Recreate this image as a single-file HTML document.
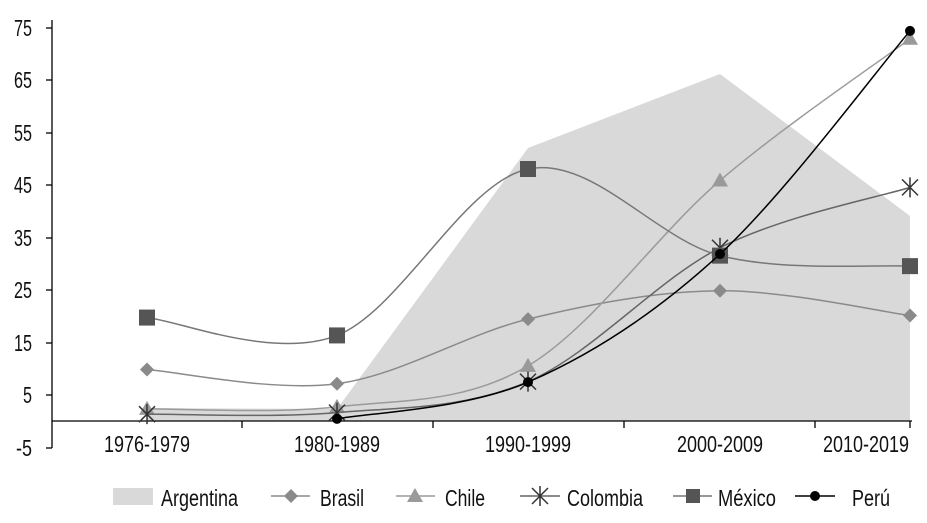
<!DOCTYPE html>
<html><head><meta charset="utf-8"><style>
html,body{margin:0;padding:0;background:#fff}
svg text{font-family:"Liberation Sans Narrow","Liberation Sans",sans-serif;font-size:23px;fill:#111}
</style></head><body>
<svg id="s" width="927" height="518" xmlns="http://www.w3.org/2000/svg">
<polygon points="147,408 337,409 528,148 720,74 910,216 910,421 147,421" fill="#d9d9d9"/>
<g stroke="#000" stroke-width="1.3">
<line x1="52" y1="20" x2="52" y2="448"/>
<line x1="52" y1="421" x2="912" y2="421"/>
<line x1="46" y1="28" x2="52" y2="28"/><line x1="46" y1="80" x2="52" y2="80"/><line x1="46" y1="133" x2="52" y2="133"/><line x1="46" y1="185" x2="52" y2="185"/><line x1="46" y1="238" x2="52" y2="238"/><line x1="46" y1="290" x2="52" y2="290"/><line x1="46" y1="343" x2="52" y2="343"/><line x1="46" y1="395" x2="52" y2="395"/><line x1="46" y1="448" x2="52" y2="448"/>
<line x1="242" y1="421" x2="242" y2="428"/><line x1="433" y1="421" x2="433" y2="428"/><line x1="624" y1="421" x2="624" y2="428"/><line x1="815" y1="421" x2="815" y2="428"/><line x1="910" y1="421" x2="910" y2="428"/>
</g>
<g text-anchor="end">
<text x="32" y="36" textLength="18" lengthAdjust="spacingAndGlyphs">75</text><text x="32" y="88" textLength="18" lengthAdjust="spacingAndGlyphs">65</text><text x="32" y="141" textLength="18" lengthAdjust="spacingAndGlyphs">55</text><text x="32" y="193" textLength="18" lengthAdjust="spacingAndGlyphs">45</text><text x="32" y="246" textLength="18" lengthAdjust="spacingAndGlyphs">35</text><text x="32" y="298" textLength="18" lengthAdjust="spacingAndGlyphs">25</text><text x="32" y="351" textLength="18" lengthAdjust="spacingAndGlyphs">15</text><text x="32" y="403" textLength="9" lengthAdjust="spacingAndGlyphs">5</text><text x="32" y="456" textLength="16" lengthAdjust="spacingAndGlyphs">-5</text>
</g>
<g text-anchor="middle">
<text x="147" y="452" textLength="86" lengthAdjust="spacingAndGlyphs">1976-1979</text>
<text x="337" y="452" textLength="86" lengthAdjust="spacingAndGlyphs">1980-1989</text>
<text x="528" y="452" textLength="86" lengthAdjust="spacingAndGlyphs">1990-1999</text>
<text x="720" y="452" textLength="86" lengthAdjust="spacingAndGlyphs">2000-2009</text>
<text x="866" y="452" textLength="86" lengthAdjust="spacingAndGlyphs">2010-2019</text>
</g>
<g id="series"></g>
<rect x="113" y="488" width="40" height="17" fill="#d9d9d9"/>
<text x="161" y="506" textLength="77" lengthAdjust="spacingAndGlyphs">Argentina</text>
<line x1="271" y1="496" x2="310" y2="496" stroke="#8a8a8a" stroke-width="1.5"/><polygon points="291,489 298,496 291,503 284,496" fill="#8a8a8a"/>
<text x="320" y="506" textLength="44" lengthAdjust="spacingAndGlyphs">Brasil</text>
<line x1="396" y1="496" x2="435" y2="496" stroke="#9a9a9a" stroke-width="1.5"/><polygon points="415,488 423,502 407,502" fill="#9a9a9a"/>
<text x="445" y="506" textLength="40" lengthAdjust="spacingAndGlyphs">Chile</text>
<line x1="520" y1="496" x2="560" y2="496" stroke="#666" stroke-width="1.5"/><path d="M532,488L548,504M548,488L532,504M540,486V506" stroke="#333" stroke-width="1.5"/>
<text x="567" y="506" textLength="76" lengthAdjust="spacingAndGlyphs">Colombia</text>
<line x1="673" y1="496" x2="712" y2="496" stroke="#777" stroke-width="1.5"/><rect x="686" y="489" width="14" height="14" fill="#555"/>
<text x="718" y="506" textLength="58" lengthAdjust="spacingAndGlyphs">México</text>
<line x1="795" y1="496" x2="835" y2="496" stroke="#000" stroke-width="1.5"/><circle cx="815" cy="496" r="5" fill="#000"/>
<text x="852" y="506" textLength="38" lengthAdjust="spacingAndGlyphs">Perú</text>
</svg>
<script>
var X=[147,337,528,720,910];function Y(v){return 421-5.25*v}
function path(pts){var d="M"+pts[0][0]+","+pts[0][1];for(var i=0;i<pts.length-1;i++){var p0=pts[i-1]||pts[i],p1=pts[i],p2=pts[i+1],p3=pts[i+2]||p2;var t=1/6;d+=" C"+(p1[0]+(p2[0]-p0[0])*t)+","+(p1[1]+(p2[1]-p0[1])*t)+" "+(p2[0]-(p3[0]-p1[0])*t)+","+(p2[1]-(p3[1]-p1[1])*t)+" "+p2[0]+","+p2[1];}return d}
var S=[
{v:[9.8,7.1,19.4,24.8,20.1],c:"#8a8a8a",m:"d"},
{v:[2.3,2.7,10.5,45.8,72.8],c:"#9a9a9a",m:"t"},
{v:[1.3,1.6,7.5,33,44.5],c:"#666",m:"x"},
{v:[19.7,16.3,48,31.5,29.5],c:"#777",m:"s"},
{v:[null,0.4,7.4,31.8,74.3],c:"#000",m:"c"}];
var g=document.getElementById("series"),h="";
S.forEach(function(s){var pts=[];s.v.forEach(function(v,i){if(v!==null)pts.push([X[i],Y(v)])});
h+='<path d="'+path(pts)+'" fill="none" stroke="'+s.c+'" stroke-width="1.5"/>';
pts.forEach(function(p){var x=p[0],y=p[1];
if(s.m=="d")h+='<polygon points="'+x+','+(y-7)+' '+(x+7)+','+y+' '+x+','+(y+7)+' '+(x-7)+','+y+'" fill="#8a8a8a"/>';
if(s.m=="t")h+='<polygon points="'+x+','+(y-8)+' '+(x+8)+','+(y+6)+' '+(x-8)+','+(y+6)+'" fill="#9a9a9a"/>';
if(s.m=="x")h+='<path d="M'+(x-8)+','+(y-8)+'L'+(x+8)+','+(y+8)+'M'+(x+8)+','+(y-8)+'L'+(x-8)+','+(y+8)+'M'+x+','+(y-10)+'V'+(y+10)+'" stroke="#333" stroke-width="1.5"/>';
if(s.m=="s")h+='<rect x="'+(x-8)+'" y="'+(y-8)+'" width="16" height="16" fill="#555"/>';
if(s.m=="c")h+='<circle cx="'+x+'" cy="'+y+'" r="5" fill="#000"/>';});});
g.innerHTML=h;
</script>
</body></html>
